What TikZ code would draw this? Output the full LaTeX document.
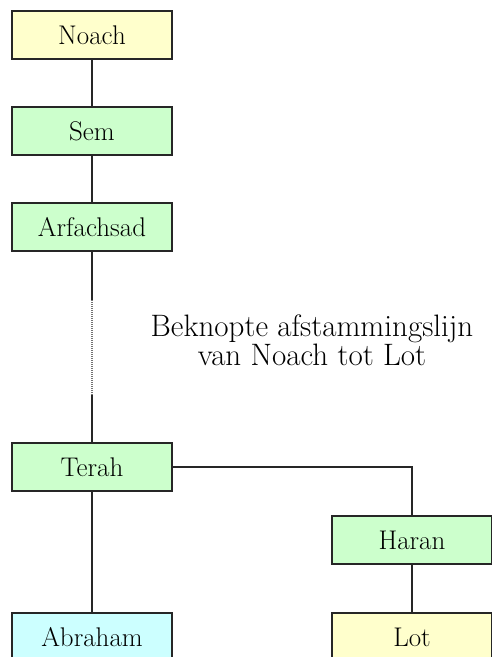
\documentclass[tikz,border=0pt]{standalone}
\usepackage{tikz}
\usetikzlibrary{positioning}
\definecolor{geel}{HTML}{FFFFCC}
\definecolor{groen}{HTML}{CCFFCC}
\definecolor{blauw}{HTML}{CCFFFF}
\tikzset{persoon/.style={rectangle, draw=black!85, line width=1.3pt, minimum width=160pt, minimum height=48pt, inner sep=0pt, font=\fontsize{27}{30}\selectfont},
lijn/.style={draw=black!85, line width=1.3pt}}
\newcommand{\stamnode}[4] {\node at (#1) (#2) [persoon, fill=#3] {#4};}
\newcommand{\stamlijn}[2] {\draw [lijn] (#1) -- (#2);}

\begin{document}
\begin{tikzpicture}[x=1pt, y=-1pt]

\useasboundingbox (0,0) rectangle (492,657);
\clip (0,0) rectangle (492,657);

\stamnode {92,35}{noach}{geel}{Noach};
\stamnode {92,131}{sem}{groen}{Sem};
\stamnode {92,227}{arfachsad}{groen}{Arfachsad};
\stamnode {92,467}{terah}{groen}{Terah};
\stamnode {92,637}{abraham}{blauw}{Abraham};
\stamnode {412,540}{haran}{groen}{Haran};
\stamnode {412,637}{lot}{geel}{Lot};

\coordinate (stipboven) at (92,300);
\coordinate (stiponder) at (92,395);

\stamlijn{noach}{sem};
\stamlijn{sem}{arfachsad};
\stamlijn{arfachsad}{stipboven};
\draw [line width=1.3pt, black!55, dash pattern=on 1pt off 1pt] (stipboven) -- (stiponder);
\stamlijn{stiponder}{terah};
\stamlijn{terah}{abraham};
\draw [lijn] (terah.east) -| (haran.north);
\stamlijn{haran}{lot};

\node at (312,340) (titel) [align=center, inner sep=0pt, font=\fontsize{31}{27}\selectfont] {Beknopte afstammingslijn\\van Noach tot Lot};

\end{tikzpicture}
\end{document}
